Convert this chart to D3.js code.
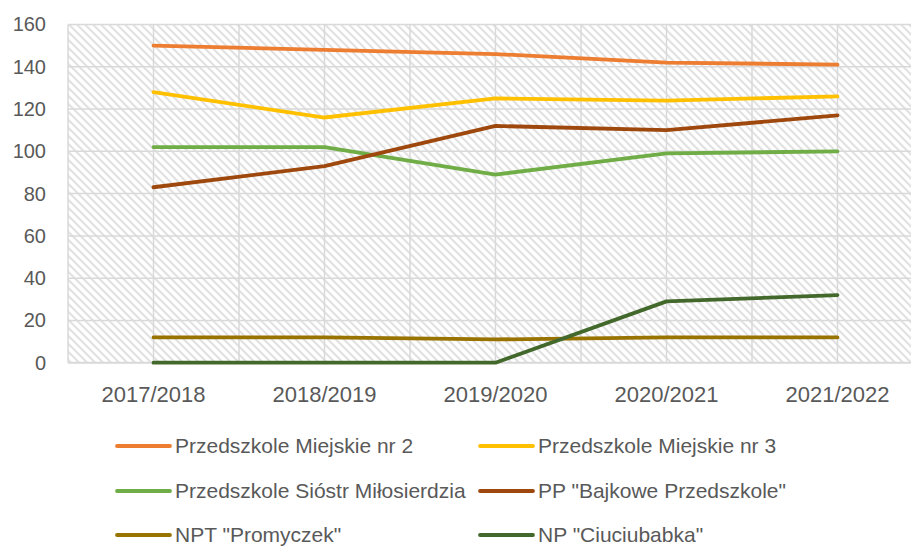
<!DOCTYPE html>
<html>
<head>
<meta charset="utf-8">
<script src="https://cdn.jsdelivr.net/npm/d3@7"></script>
<style>
  html, body { margin: 0; padding: 0; background: #fff; }
  svg { display: block; }
  text { font-family: "Liberation Sans", Arial, sans-serif; fill: #595959; }
</style>
</head>
<body>
<svg id="chart" width="911" height="547"></svg>
<script>
// School years on the category axis
const years = ["2017/2018", "2018/2019", "2019/2020", "2020/2021", "2021/2022"];

// Children per kindergarten, one array per institution
const miejskie2 = [150, 148, 146, 142, 141];
const miejskie3 = [128, 116, 125, 124, 126];
const siostr    = [102, 102, 89, 99, 100];
const bajkowe   = [83, 93, 112, 110, 117];
const promyczek = [12, 12, 11, 12, 12];
const ciuciu    = [0, 0, 0, 29, 32];

const seriesNames = [
  "Przedszkole Miejskie nr 2",
  "Przedszkole Miejskie nr 3",
  "Przedszkole Sióstr Miłosierdzia",
  "PP \"Bajkowe Przedszkole\"",
  "NPT \"Promyczek\"",
  "NP \"Ciuciubabka\""
];
const seriesValues = [miejskie2, miejskie3, siostr, bajkowe, promyczek, ciuciu];
const seriesColors = ["#ED7D31", "#FFC000", "#70AD47", "#9E480E", "#997300", "#43682B"];

const yTicks = [0, 20, 40, 60, 80, 100, 120, 140, 160];

const svg = d3.select("#chart");

const plot = { left: 68, right: 923, top: 24.5, bottom: 362.7 };

const x = d3.scaleBand().domain(years).range([plot.left, plot.right]).paddingInner(0).paddingOuter(0);
const y = d3.scaleLinear().domain([0, 160]).range([plot.bottom, plot.top]);

// Wide downward-diagonal hatch fill for the plot area
const defs = svg.append("defs");
const pat = defs.append("pattern")
  .attr("id", "hatch")
  .attr("patternUnits", "userSpaceOnUse")
  .attr("width", 8).attr("height", 8)
  .attr("x", plot.left).attr("y", plot.top);
pat.append("rect").attr("width", 8).attr("height", 8).attr("fill", "#ffffff");
for (let r = 0; r < 8; r++) {
  for (let k = 0; k < 3; k++) {
    pat.append("rect")
      .attr("x", (r + k) % 8).attr("y", r)
      .attr("width", 1).attr("height", 1)
      .attr("fill", "#e1e1e1");
  }
}

svg.append("rect")
  .attr("x", plot.left).attr("y", plot.top)
  .attr("width", plot.right - plot.left).attr("height", plot.bottom - plot.top)
  .attr("fill", "url(#hatch)");

// Horizontal gridlines
svg.append("g")
  .selectAll("line")
  .data(yTicks.filter(d => d > 0))
  .join("line")
  .attr("x1", plot.left).attr("x2", plot.right)
  .attr("y1", d => y(d)).attr("y2", d => y(d))
  .attr("stroke", "#d9d9d9").attr("stroke-width", 1.5);

// Vertical gridlines at category edges and centres
const vGrid = [];
years.forEach(c => { vGrid.push(x(c)); vGrid.push(x(c) + x.bandwidth() / 2); });
svg.append("g")
  .selectAll("line")
  .data(vGrid)
  .join("line")
  .attr("x1", d => d).attr("x2", d => d)
  .attr("y1", plot.top).attr("y2", plot.bottom)
  .attr("stroke", "#d9d9d9").attr("stroke-width", 1.5);

// Category axis line
svg.append("line")
  .attr("x1", plot.left).attr("x2", plot.right)
  .attr("y1", plot.bottom).attr("y2", plot.bottom)
  .attr("stroke", "#d9d9d9").attr("stroke-width", 2);

// Value axis labels
const yAxis = d3.axisLeft(y).tickValues(yTicks).tickSize(0).tickPadding(0);
const gy = svg.append("g").attr("transform", "translate(46,0)").call(yAxis);
gy.select(".domain").remove();
gy.selectAll("text")
  .attr("font-family", "Liberation Sans, Arial, sans-serif")
  .attr("font-size", 20).attr("fill", "#595959");

// Category axis labels
const xAxis = d3.axisBottom(x).tickSize(0).tickPadding(0);
const gx = svg.append("g").attr("transform", "translate(0,0)").call(xAxis);
gx.select(".domain").remove();
gx.selectAll("text")
  .attr("font-family", "Liberation Sans, Arial, sans-serif")
  .attr("font-size", 22).attr("fill", "#595959")
  .attr("y", 402).attr("dy", 0);

// Series lines
const line = d3.line()
  .x((d, i) => x(years[i]) + x.bandwidth() / 2)
  .y(d => y(d));

svg.append("g")
  .selectAll("path")
  .data(seriesValues)
  .join("path")
  .attr("d", d => line(d))
  .attr("fill", "none")
  .attr("stroke", (d, i) => seriesColors[i])
  .attr("stroke-width", 3.8)
  .attr("stroke-linecap", "round")
  .attr("stroke-linejoin", "round");

// Legend: two columns, three rows
const legCols = [117, 480];
const legRows = [446, 491, 535];
const leg = svg.append("g")
  .selectAll("g")
  .data(seriesNames)
  .join("g")
  .attr("transform", (d, i) => `translate(${legCols[i % 2]},${legRows[Math.floor(i / 2)]})`);
leg.append("line")
  .attr("x1", 0).attr("x2", 53).attr("y1", 0).attr("y2", 0)
  .attr("stroke", (d, i) => seriesColors[i])
  .attr("stroke-width", 3.8)
  .attr("stroke-linecap", "round");
leg.append("text")
  .attr("x", 58).attr("y", 0).attr("dy", "0.33em")
  .attr("font-size", 21)
  .text(d => d);
</script>
</body>
</html>
